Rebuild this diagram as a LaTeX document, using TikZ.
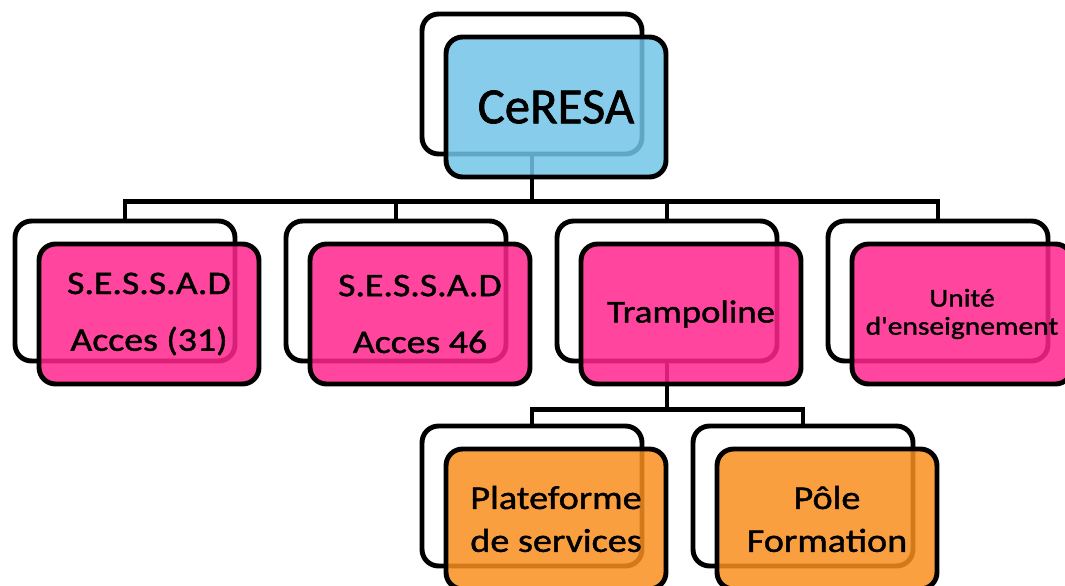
\documentclass[tikz,border=0pt]{standalone}
\usepackage{fontspec}
\setmainfont{Carlito}[FakeBold=1.3]
\newfontfamily\headfont[FakeBold=1.3]{Carlito}
\newfontfamily\boxfont[FakeStretch=1.15, FakeBold=1.3]{Carlito}
\usepackage{tikz}
\usetikzlibrary{positioning}
\usepackage{xcolor}
\definecolor{ceresablue}{RGB}{114,197,232}
\definecolor{unitpink}{RGB}{255,37,141}
\definecolor{poleorange}{RGB}{249,143,31}

\tikzset{
  backbox/.style={draw=black, line width=2.8pt, rounded corners=0.33cm, fill=white,
    minimum width=4.4cm, minimum height=2.8cm, inner sep=0pt},
  frontbox/.style={backbox, fill opacity=0.85, text opacity=1, align=center},
  link/.style={draw=black, line width=2.8pt}
}

\begin{document}
\begin{tikzpicture}[x=0.02cm, y=-0.02cm]
    \useasboundingbox (0,0) rectangle (1065,585);
    % back frames
    \node[backbox] (ceresaback) at (532,84) {};
    \node[backbox] (sessadAback) at (125,291) {};
    \node[backbox] (sessadBback) at (396,291) {};
    \node[backbox] (trampback) at (667,291) {};
    \node[backbox] (unitback) at (938,291) {};
    \node[backbox] (platback) at (532,496) {};
    \node[backbox] (poleback) at (803,496) {};
    % links row 1
    \draw[link] (ceresaback.south) -- ++(0,45) coordinate (busA);
    \draw[link] (busA) -| (sessadAback.north);
    \draw[link] (busA) -| (sessadBback.north);
    \draw[link] (busA) -| (trampback.north);
    \draw[link] (busA) -| (unitback.north);
    % links row 2
    \draw[link] (trampback.south) -- ++(0,46) coordinate (busB);
    \draw[link] (busB) -| (platback.north);
    \draw[link] (busB) -| (poleback.north);
    % front boxes
    \node[frontbox, fill=ceresablue, font=\headfont\fontsize{28.9}{34}\selectfont] (ceresa) at (556,107) {CeRESA};
    \node[frontbox, fill=unitpink, font=\boxfont\fontsize{18.7}{32.3}\selectfont] (sessadA) at (149,314) {S.E.S.S.A.D\\Acces (31)};
    \node[frontbox, fill=unitpink, font=\boxfont\fontsize{18.7}{32.3}\selectfont] (sessadB) at (420,314) {S.E.S.S.A.D\\Acces 46};
    \node[frontbox, fill=unitpink, font=\boxfont\fontsize{18.2}{32}\selectfont] (tramp) at (691,314) {Trampoline};
    \node[frontbox, fill=unitpink, font=\boxfont\fontsize{14.6}{16}\selectfont] (unit) at (962,314) {Unité\\d'enseignement};
    \node[frontbox, fill=poleorange, font=\boxfont\fontsize{18.9}{24.4}\selectfont] (plat) at (556,519) {Plateforme\\de services};
    \node[frontbox, fill=poleorange, font=\boxfont\fontsize{18.9}{24.4}\selectfont] (pole) at (827,519) {Pôle\\Formation};
\end{tikzpicture}
\end{document}
